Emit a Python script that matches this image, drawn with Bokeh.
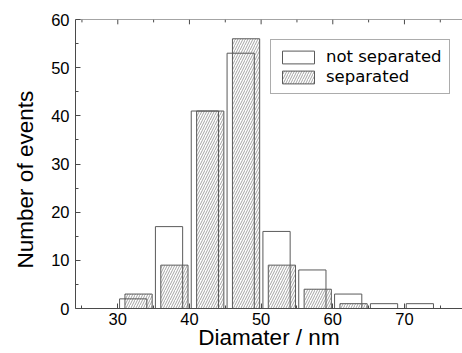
from bokeh.plotting import figure
from bokeh.models import FixedTicker, Legend, LegendItem, Range1d, Span
from bokeh.embed import file_html
from bokeh.resources import INLINE

# ---- data ----
bin_centers = [32.5, 37.5, 42.5, 47.5, 52.5, 57.5, 62.5, 67.5, 72.5]
not_separated = [2, 17, 41, 53, 16, 8, 3, 1, 1]
separated = [3, 9, 41, 56, 9, 4, 1, 0, 0]
x_ticks = [30, 40, 50, 60, 70]
x_minor = [25, 35, 45, 55, 65, 75]
y_ticks = [0, 10, 20, 30, 40, 50, 60]
y_minor = [5, 15, 25, 35, 45, 55]
X_MIN, X_MAX = 24.1, 78.1
Y_MAX = 60

BAR_W = 3.8
x_not = [c - 0.35 for c in bin_centers]
x_sep = [c + 0.4 for c in bin_centers]

p = figure(width=462, height=353, output_backend="svg", toolbar_location=None,
           x_range=Range1d(X_MIN, X_MAX), y_range=Range1d(0, Y_MAX),
           min_border_left=75, min_border_top=19, min_border_right=0,
           min_border_bottom=45)
p.outline_line_color = None
p.xgrid.visible = False
p.ygrid.visible = False
p.background_fill_color = "white"
p.border_fill_color = "white"

sep_r = p.vbar(x=x_sep, top=separated, width=BAR_W, bottom=0,
               fill_color="white", line_color="#5a5a5a", line_width=1,
               hatch_pattern="/", hatch_color="#8c8c8c", hatch_scale=5,
               hatch_weight=0.8)
not_r = p.vbar(x=x_not, top=not_separated, width=BAR_W, bottom=0,
               fill_color=None, line_color="#5a5a5a", line_width=1)

AX = "#4a4a4a"
FONT = "Arial"
for ax in (p.xaxis[0], p.yaxis[0]):
    ax.axis_line_color = AX
    ax.major_tick_line_color = AX
    ax.minor_tick_line_color = AX
    ax.major_tick_in = 5
    ax.major_tick_out = 0
    ax.minor_tick_in = 3
    ax.minor_tick_out = 0
    ax.major_label_text_font = FONT
    ax.major_label_text_font_size = "16.5px"
    ax.major_label_text_color = "black"
    ax.axis_label_text_font = FONT
    ax.axis_label_text_font_size = "22.5px"
    ax.axis_label_text_font_style = "normal"
    ax.axis_label_text_color = "black"

p.xaxis[0].ticker = FixedTicker(ticks=x_ticks, minor_ticks=x_minor)
p.yaxis[0].ticker = FixedTicker(ticks=y_ticks, minor_ticks=y_minor)
p.xaxis[0].axis_label = "Diamater / nm"
p.yaxis[0].axis_label = "Number of events" + "\u00a0" * 5
p.xaxis[0].major_label_standoff = 4
p.xaxis[0].axis_label_standoff = -3
p.yaxis[0].major_label_standoff = 6
p.yaxis[0].axis_label_standoff = 10

# top frame line with inward ticks (no labels)
p.add_layout(Span(location=Y_MAX, dimension="width", line_color=AX, line_width=1))
p.segment(x0=x_ticks, x1=x_ticks, y0=[Y_MAX] * len(x_ticks),
          y1=[Y_MAX - 1.0] * len(x_ticks), line_color=AX, line_width=1)
p.segment(x0=x_minor, x1=x_minor, y0=[Y_MAX] * len(x_minor),
          y1=[Y_MAX - 0.6] * len(x_minor), line_color=AX, line_width=1)

legend = Legend(items=[LegendItem(label="not separated", renderers=[not_r]),
                       LegendItem(label="separated", renderers=[sep_r])],
                location=(195, 214), glyph_width=40, glyph_height=16,
                label_height=16, label_standoff=8, spacing=1, padding=7,
                margin=0, border_line_color="#5a5a5a", border_line_width=1,
                label_text_font="DejaVu Sans", label_text_font_size="16.5px",
                label_text_color="black", background_fill_alpha=1)
p.add_layout(legend)

open("out.html", "w").write(file_html(p, INLINE))
